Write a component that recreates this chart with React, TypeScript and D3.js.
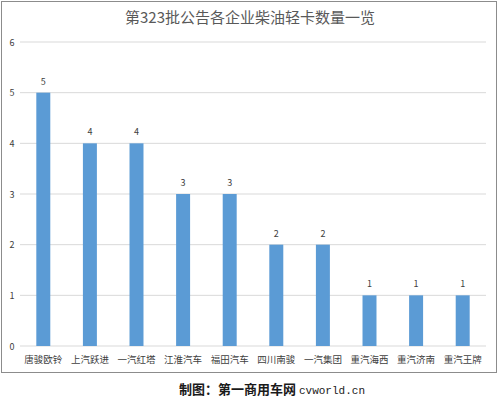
import * as d3 from "d3";

const categories = ["唐骏欧铃", "上汽跃进", "一汽红塔", "江淮汽车", "福田汽车", "四川南骏", "一汽集团", "重汽海西", "重汽济南", "重汽王牌"];
const values = [5, 4, 4, 3, 3, 2, 2, 1, 1, 1];
const yTicks = [0, 1, 2, 3, 4, 5, 6];

const W = 500;
const H = 398;
const left = 20;
const right = 486;
const top = 42;
const bottom = 346;

const font = "'Microsoft YaHei', 'Noto Sans CJK SC', sans-serif";

const App = () => {
  const x = d3.scaleBand<string>().domain(categories).range([left, right]).paddingInner(0.7).paddingOuter(0.35);
  const y = d3.scaleLinear().domain([0, 6]).range([bottom, top]);

  return (
    <svg width={W} height={H} style={{ position: "absolute", left: 0, top: 0, background: "white" }}>
      <rect x={1.5} y={1.5} width={495} height={371} fill="white" stroke="#8c8c8c" strokeWidth={1} />
      <text x={250} y={23} textAnchor="middle" fontFamily={font} fontSize={15} fill="#595959">
        第323批公告各企业柴油轻卡数量一览
      </text>
      {yTicks.map((t) => (
        <g key={t}>
          <line x1={left} x2={right} y1={y(t)} y2={y(t)} stroke="#d9d9d9" strokeWidth={1} />
          <text x={12} y={y(t) + 3.5} textAnchor="middle" fontFamily={font} fontSize={9} fill="#404040">
            {t}
          </text>
        </g>
      ))}
      {categories.map((c, i) => (
        <g key={c}>
          <rect x={x(c)} y={y(values[i])} width={x.bandwidth()} height={bottom - y(values[i])} fill="#5b9bd5" />
          <text x={(x(c) ?? 0) + x.bandwidth() / 2} y={y(values[i]) - 8} textAnchor="middle" fontFamily={font} fontSize={9} fill="#404040">
            {values[i]}
          </text>
          <text x={(x(c) ?? 0) + x.bandwidth() / 2} y={363} textAnchor="middle" fontFamily={font} fontSize={9.5} fill="#404040">
            {c}
          </text>
        </g>
      ))}
      <text x={272} y={394} textAnchor="middle" fontFamily={font} fontSize={13} fontWeight="bold" fill="#1a1a1a">
        制图：第一商用车网 <tspan fontFamily="'Liberation Mono', monospace" fontSize={11} fontWeight="normal">cvworld.cn</tspan>
      </text>
    </svg>
  );
};

export default App;
